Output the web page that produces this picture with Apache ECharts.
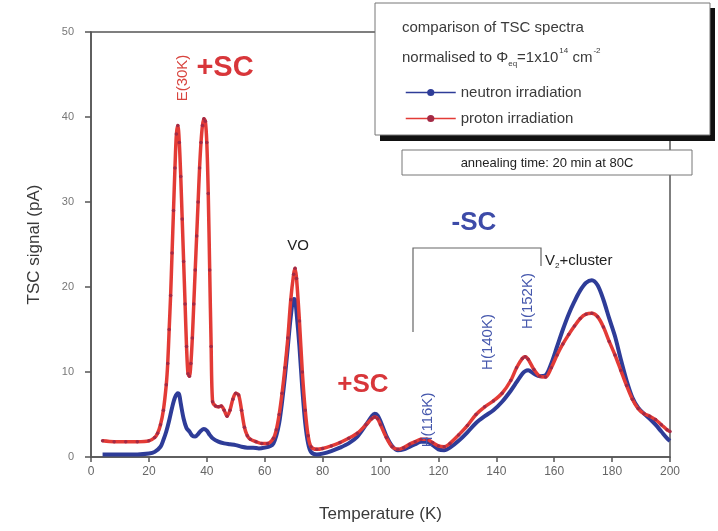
<!DOCTYPE html>
<html>
<head>
<meta charset="utf-8">
<script src="https://cdn.jsdelivr.net/npm/echarts@6/dist/echarts.min.js"></script>
<style>
  html, body { margin: 0; padding: 0; background: #ffffff; }
  #chart { width: 718px; height: 531px; }
</style>
</head>
<body>
<div id="chart"></div>
<script>
// TSC spectra after irradiation, normalised fluence, 20 min annealing at 80C

// Proton irradiation: temperature (K) and TSC signal (pA)
const protonT = [4, 8, 12, 16, 20, 22, 23, 24, 25, 26, 26.5, 27, 27.5, 28, 28.5, 29, 29.5, 30, 30.5, 31, 31.5, 32, 32.5, 33, 33.5, 34, 34.5, 35, 35.5, 36, 36.5, 37, 37.5, 38, 38.5, 39, 39.5, 40, 40.5, 41, 41.5, 42, 43, 44, 45, 46, 47, 48, 49, 50, 51, 52, 53, 54, 55, 57, 59, 61, 63, 64, 65, 66, 67, 68, 69, 70, 70.5, 71, 72, 73, 74, 75, 76, 78, 80, 83, 86, 89, 92, 95, 97, 98, 99, 100, 102, 104, 106, 108, 110, 112, 114, 116, 118, 120, 122, 124, 127, 130, 133, 136, 139, 142, 145, 147, 149, 150, 151, 153, 155, 157, 159, 161, 163, 165, 167, 169, 171, 173, 175, 177, 179, 181, 183, 185, 187, 189, 191, 193, 195, 197, 199, 200];
const protonI = [1.9, 1.8, 1.8, 1.8, 1.9, 2.3, 2.8, 3.8, 5.5, 8.5, 11, 15, 19, 24, 29, 34, 38, 39, 37, 33, 28, 23, 18, 13, 9.8, 9.5, 11, 14, 18, 22, 26, 30, 34, 37, 39, 39.8, 39.5, 37, 31, 22, 13, 6.5, 6, 5.9, 6, 5.5, 4.8, 5.5, 6.8, 7.5, 7.3, 5.5, 3.5, 2.5, 2.1, 1.8, 1.6, 1.6, 2.2, 3.2, 5, 7.5, 10.5, 14, 18.5, 21.5, 22.2, 21, 16, 10, 5.5, 2.5, 1.2, 0.9, 1.0, 1.3, 1.7, 2.2, 2.8, 3.8, 4.5, 4.7, 4.5, 3.8, 2.3, 1.2, 0.9, 1.1, 1.5, 1.8, 2.1, 2.1, 1.7, 1.3, 1.2, 1.6, 2.6, 3.7, 5, 5.9, 6.6, 7.5, 9, 10.5, 11.6, 11.8, 11.5, 10.3, 9.5, 9.4, 10.5, 12, 13.3, 14.4, 15.4, 16.3, 16.8, 16.9, 16.5, 15.3, 13.6, 12, 10.2, 8.4, 6.8, 5.7, 5.1, 4.8, 4.4, 3.8, 3.2, 3];

// Neutron irradiation: temperature (K) and TSC signal (pA)
const neutronT = [4, 10, 16, 20, 22, 24, 25, 26, 27, 28, 29, 30, 30.5, 31, 32, 33, 34, 35, 36, 37, 38, 39, 40, 41, 42, 44, 46, 48, 50, 52, 54, 56, 58, 60, 62, 63, 64, 65, 66, 67, 68, 69, 70, 70.5, 71, 72, 73, 74, 75, 76, 78, 80, 83, 86, 89, 92, 95, 97, 98, 99, 100, 102, 104, 106, 108, 110, 112, 114, 116, 118, 120, 122, 124, 127, 130, 133, 136, 139, 142, 145, 147, 149, 150, 151, 153, 155, 157, 159, 161, 163, 165, 167, 169, 171, 173, 175, 177, 179, 181, 183, 185, 187, 189, 191, 193, 195, 197, 199, 200];
const neutronI = [0.3, 0.3, 0.3, 0.4, 0.6, 1.2, 2, 3, 4.3, 5.8, 7, 7.5, 7.3, 6.3, 4.5, 3.4, 3, 2.5, 2.4, 2.7, 3.1, 3.3, 3.1, 2.6, 2.2, 1.8, 1.6, 1.5, 1.4, 1.2, 1.1, 1.1, 1.0, 1.1, 1.3, 1.6, 2.5, 4, 6.5, 9.5, 13, 16.5, 18.6, 18.5, 17, 13, 8, 4, 1.6, 0.6, 0.3, 0.4, 0.7, 1.1, 1.6, 2.4, 3.8, 4.8, 5.1, 4.9, 4.2, 2.5, 1.3, 0.8, 0.9, 1.2, 1.5, 1.8, 1.8, 1.4, 0.9, 0.8, 1.1, 1.9, 2.9, 4, 4.8, 5.5, 6.5, 7.8, 8.8, 9.8, 10.1, 10.2, 9.8, 9.5, 9.6, 11, 13, 15, 16.8, 18.3, 19.6, 20.5, 20.8, 20.2, 18.5, 16.3, 14.2, 11.5, 9, 7, 5.8, 5.1, 4.5, 3.8, 3, 2.2, 1.9];

// Axis ranges and ticks
const xTicks = { min: 0, max: 200, step: 20 };
const yTicks = { min: 0, max: 50, step: 10 };

const seriesNames = ['neutron irradiation', 'proton irradiation'];

const pairs = (xs, ys) => xs.map((x, i) => [x, ys[i]]);

const FONT = '"Liberation Sans", Arial, sans-serif';
const RED = '#e33b36';
const BLUE = '#2e3c98';
const LABEL_BLUE = '#4658ad';
const AXIS = '#555555';
const TEXT = '#3a3a3a';

const chart = echarts.init(document.getElementById('chart'), null, { renderer: 'canvas' });

const option = {
  backgroundColor: '#ffffff',
  animation: false,
  textStyle: { fontFamily: FONT },
  grid: {
    left: 91, right: 48, top: 32, bottom: 74,
    show: true, borderColor: AXIS, borderWidth: 1.5, backgroundColor: 'transparent'
  },
  legend: {
    orient: 'vertical',
    left: 400, top: 80,
    z: 30,
    itemWidth: 50, itemHeight: 9, itemGap: 11,
    data: seriesNames,
    textStyle: { fontSize: 15, color: TEXT, fontFamily: FONT },
    lineStyle: { width: 1.5 }
  },
  xAxis: {
    type: 'value',
    min: xTicks.min, max: xTicks.max, interval: xTicks.step,
    name: 'Temperature (K)', nameLocation: 'middle', nameGap: 49,
    nameTextStyle: { fontSize: 17, color: TEXT, fontFamily: FONT },
    axisLine: { show: true, lineStyle: { color: AXIS, width: 1.5 } },
    axisTick: { show: true, inside: false, length: 5, lineStyle: { color: AXIS, width: 1.5 } },
    axisLabel: { fontSize: 12, color: '#666', margin: 9 },
    splitLine: { show: false }
  },
  yAxis: {
    type: 'value',
    min: yTicks.min, max: yTicks.max, interval: yTicks.step,
    name: 'TSC signal (pA)', nameLocation: 'middle', nameGap: 48, nameRotate: 90,
    nameTextStyle: { fontSize: 17, color: TEXT, fontFamily: FONT },
    axisLine: { show: true, lineStyle: { color: AXIS, width: 1.5 } },
    axisTick: { show: true, inside: false, length: 6, lineStyle: { color: AXIS, width: 1.5 } },
    axisLabel: { fontSize: 11, color: '#777', margin: 17 },
    splitLine: { show: false }
  },
  series: [
    {
      name: seriesNames[0],
      type: 'line',
      data: pairs(neutronT, neutronI),
      smooth: 0.3,
      showSymbol: false,
      symbol: 'circle', symbolSize: 4,
      lineStyle: { color: BLUE, width: 4 },
      itemStyle: { color: BLUE },
      z: 2
    },
    {
      name: seriesNames[1],
      type: 'line',
      data: pairs(protonT, protonI),
      smooth: 0.3,
      showSymbol: true,
      symbol: 'circle', symbolSize: 3.5,
      lineStyle: { color: RED, width: 3.5 },
      itemStyle: { color: '#a32a45', borderWidth: 0 },
      z: 3
    }
  ],
  graphic: [
    // legend panel with drop shadow
    { type: 'rect', shape: { x: 380, y: 8, width: 335, height: 133 }, style: { fill: '#111' }, z: 10 },
    { type: 'rect', shape: { x: 375, y: 3, width: 335, height: 132 }, style: { fill: '#fff', stroke: '#777', lineWidth: 1 }, z: 11 },
    {
      type: 'text', left: 402, top: 20, z: 12,
      style: { text: 'comparison of TSC spectra', font: '15px ' + FONT, fill: TEXT }
    },
    {
      type: 'text', left: 402, top: 47, z: 12,
      style: {
        text: '{n|normalised to Φ}{s|eq}{n|=1x10}{p|14}{n| cm}{p|-2}',
        rich: {
          n: { fontSize: 15, fontFamily: FONT, fill: TEXT, lineHeight: 20 },
          s: { fontSize: 8, fontFamily: FONT, fill: TEXT, lineHeight: 20, padding: [12, 0, 0, 0] },
          p: { fontSize: 8, fontFamily: FONT, fill: TEXT, lineHeight: 20, padding: [0, 0, 14, 1] }
        }
      }
    },
    // annealing note
    { type: 'rect', shape: { x: 402, y: 150, width: 290, height: 25 }, style: { fill: '#fff', stroke: '#777', lineWidth: 1 }, z: 10 },
    {
      type: 'text', x: 547, y: 163, z: 11,
      style: { text: 'annealing time: 20 min at 80C', font: '13px ' + FONT, fill: '#222', align: 'center', verticalAlign: 'middle' }
    },
    // bracket over the H-defect region
    {
      type: 'polyline', z: 5,
      shape: { points: [[413, 332], [413, 248], [541, 248], [541, 266]] },
      style: { stroke: '#666', lineWidth: 1.2, fill: 'none' }
    },
    // peak annotations
    {
      type: 'text', x: 183, y: 78, rotation: Math.PI / 2, z: 6,
      style: { text: 'E(30K)', font: '15px ' + FONT, fill: '#d8453f', align: 'center', verticalAlign: 'middle' }
    },
    {
      type: 'text', x: 225, y: 68, z: 6,
      style: { text: '+SC', font: 'bold 29px ' + FONT, fill: '#d8363a', align: 'center', verticalAlign: 'middle' }
    },
    {
      type: 'text', x: 298, y: 246, z: 6,
      style: { text: 'VO', font: '15px ' + FONT, fill: '#222', align: 'center', verticalAlign: 'middle' }
    },
    {
      type: 'text', x: 363, y: 385, z: 6,
      style: { text: '+SC', font: 'bold 26px ' + FONT, fill: '#d8363a', align: 'center', verticalAlign: 'middle' }
    },
    {
      type: 'text', x: 474, y: 223, z: 6,
      style: { text: '-SC', font: 'bold 26px ' + FONT, fill: '#3d4ba8', align: 'center', verticalAlign: 'middle' }
    },
    {
      type: 'text', x: 428, y: 420, rotation: Math.PI / 2, z: 6,
      style: { text: 'H(116K)', font: '15px ' + FONT, fill: LABEL_BLUE, align: 'center', verticalAlign: 'middle' }
    },
    {
      type: 'text', x: 488, y: 342, rotation: Math.PI / 2, z: 6,
      style: { text: 'H(140K)', font: '15px ' + FONT, fill: LABEL_BLUE, align: 'center', verticalAlign: 'middle' }
    },
    {
      type: 'text', x: 528, y: 301, rotation: Math.PI / 2, z: 6,
      style: { text: 'H(152K)', font: '15px ' + FONT, fill: LABEL_BLUE, align: 'center', verticalAlign: 'middle' }
    },
    {
      type: 'text', left: 545, top: 252, z: 6,
      style: {
        text: '{n|V}{s|2}{n|+cluster}',
        rich: {
          n: { fontSize: 15, fontFamily: FONT, fill: '#222', lineHeight: 20 },
          s: { fontSize: 8, fontFamily: FONT, fill: '#222', lineHeight: 20, padding: [10, 0, 0, 0] }
        }
      }
    }
  ]
};

chart.setOption(option);
</script>
</body>
</html>
